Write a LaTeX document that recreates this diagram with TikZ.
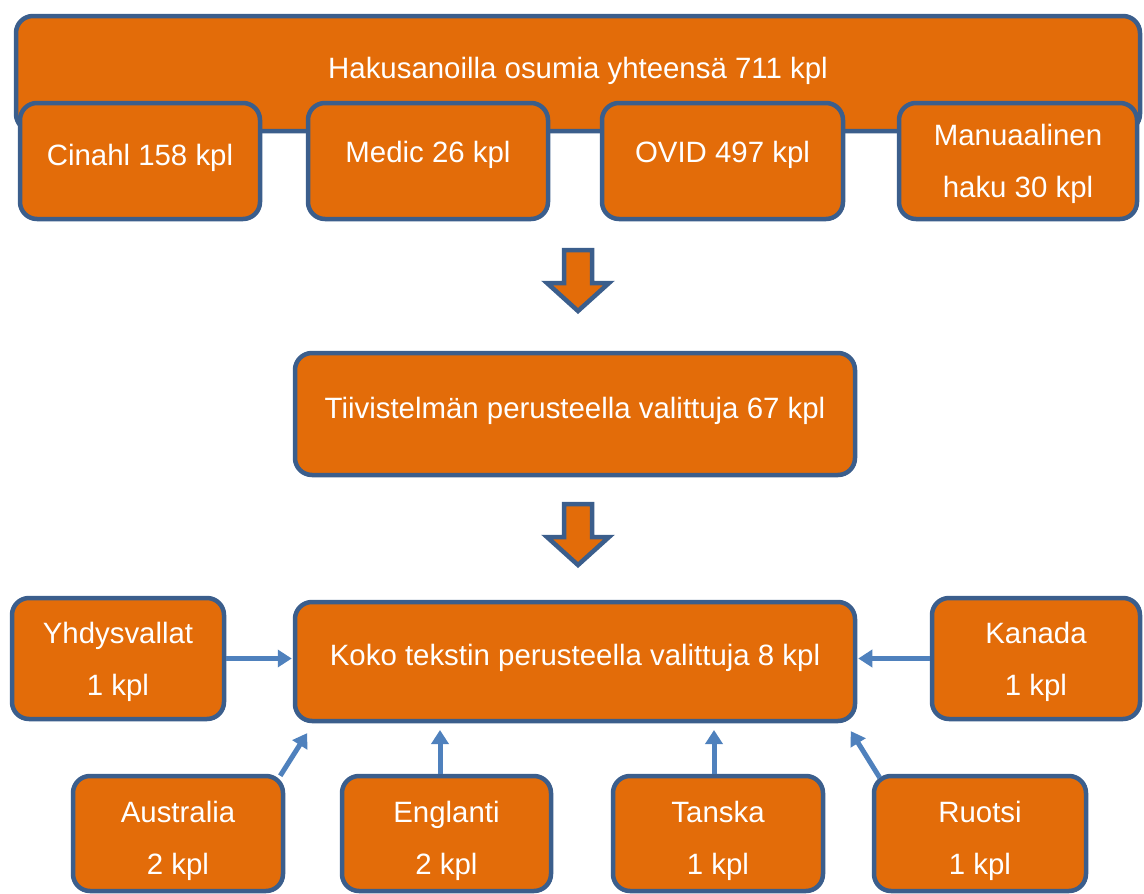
\documentclass[tikz,border=0pt]{standalone}
\usepackage{fontspec}
\setmainfont{Liberation Sans}
\usetikzlibrary{arrows.meta,calc}
\definecolor{boxfill}{HTML}{E36C09}
\definecolor{boxline}{HTML}{3B5E8C}
\definecolor{linkblue}{HTML}{4F81BD}
% text block whose first baseline sits #2 pt below the middle of the box
% (less 26pt for each extra line); #1 is the height of the top strut
\newcommand\boxtext[3][55]{\rule{0pt}{#1pt}#3\rule[-\dimexpr #1pt-#2pt*2\relax]{0pt}{0pt}}
\begin{document}
\begin{tikzpicture}[x=1pt,y=-1pt,
  box/.style={draw=boxline, fill=boxfill, line width=4.5pt, rounded corners=17pt,
    text=white, font=\fontsize{29.4}{52}\selectfont, align=center, inner sep=0pt},
  conn/.style={draw=linkblue, line width=5pt, -{Triangle[width=17pt,length=14pt]}, shorten >=1pt},
  blockarrow/.style={draw=boxline, fill=boxfill, line width=4.5pt, line join=miter}]
\useasboundingbox (0,0) rectangle (1144,894);

% search total with the four sources overlapping its lower edge
\node[box, minimum width=1124pt, minimum height=115pt] (all) at (578,73.5) {\boxtext{4.9}{Hakusanoilla osumia yhteensä 711 kpl}};
\node[box, minimum width=240pt, minimum height=116pt] (cin) at (140,161) {\boxtext{4.4}{Cinahl 158 kpl}};
\node[box, minimum width=240pt, minimum height=116pt] (med) at (428,161) {\boxtext{1.4}{Medic 26 kpl}};
\node[box, minimum width=241pt, minimum height=116pt] (ovid) at (722.5,161) {\boxtext{1.4}{OVID 497 kpl}};
\node[box, minimum width=238pt, minimum height=116pt] (man) at (1018,161) {\boxtext[36]{10.4}{Manuaalinen\\haku 30 kpl}};

% down arrows between the stages
\coordinate (a1) at (578,250);
\coordinate (a2) at (578,504);
\foreach \c in {a1,a2}
  \draw[blockarrow] ($(\c)+(-14,0)$) -- ($(\c)+(14,0)$) -- ($(\c)+(14,33)$) -- ($(\c)+(31,33)$)
    -- ($(\c)+(0,61)$) -- ($(\c)+(-31,33)$) -- ($(\c)+(-14,33)$) -- cycle;

\node[box, minimum width=560pt, minimum height=122pt] (abs) at (575,414) {\boxtext{4.4}{Tiivistelmän perusteella valittuja 67 kpl}};
\node[box, minimum width=560pt, minimum height=119pt] (full) at (575,661.5) {\boxtext{3.9}{Koko tekstin perusteella valittuja 8 kpl}};

% countries of the selected articles
\node[box, minimum width=212pt, minimum height=121pt] (usa) at (118,658.5) {\boxtext[36]{10.9}{Yhdysvallat\\1 kpl}};
\node[box, minimum width=208pt, minimum height=121pt] (can) at (1036,658.5) {\boxtext[36]{10.9}{Kanada\\1 kpl}};
\node[box, minimum width=210pt, minimum height=115pt] (aus) at (178,833.5) {\boxtext[36]{14.9}{Australia\\2 kpl}};
\node[box, minimum width=209pt, minimum height=115pt] (eng) at (446.5,833.5) {\boxtext[36]{14.9}{Englanti\\2 kpl}};
\node[box, minimum width=210pt, minimum height=115pt] (den) at (718,833.5) {\boxtext[36]{14.9}{Tanska\\1 kpl}};
\node[box, minimum width=212pt, minimum height=115pt] (swe) at (980,833.5) {\boxtext[36]{14.9}{Ruotsi\\1 kpl}};

\coordinate (eTip) at (440,729);
\coordinate (dTip) at (714,729);
\draw[conn] (usa.east) -- (full.west |- usa.east);
\draw[conn] (can.west) -- (full.east |- can.west);
\draw[conn] ($(aus.north east)+(-5,2)$) -- ($(full.south west)+(15,9)$);
\draw[conn] (eng.north -| eTip) -- (eTip);
\draw[conn] (den.north -| dTip) -- (dTip);
\draw[conn] ($(swe.north west)+(8,4)$) -- ($(full.south east)+(-7,7)$);
\end{tikzpicture}
\end{document}
